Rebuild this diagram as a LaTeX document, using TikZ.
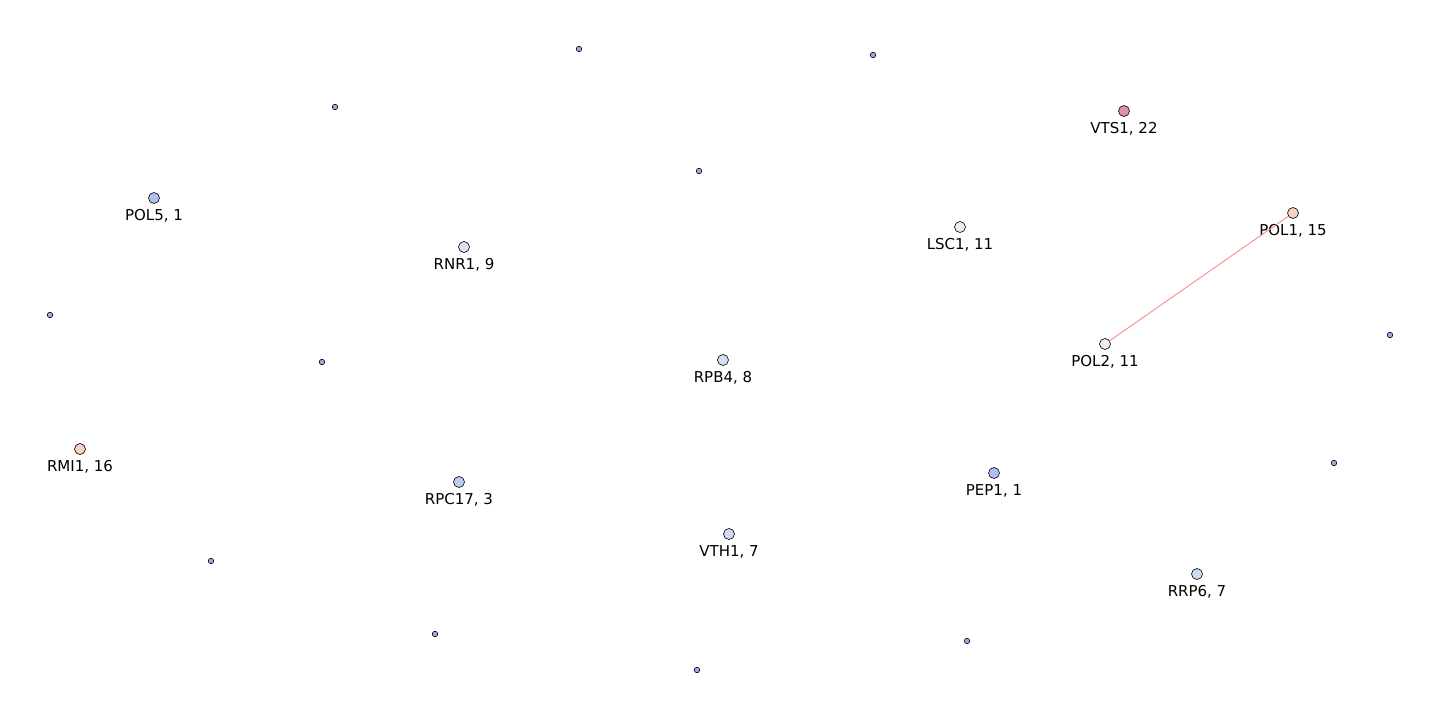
\documentclass[tikz,border=0pt]{standalone}
\usepackage{fontspec}
\setmainfont{DejaVu Sans}
\usepackage{tikz}
\usetikzlibrary{positioning}

\definecolor{cHot}{RGB}{224,146,162}
\definecolor{cWarm}{RGB}{246,210,195}
\definecolor{cMid}{RGB}{238,237,236}
\definecolor{cNine}{RGB}{220,228,246}
\definecolor{cEight}{RGB}{214,222,245}
\definecolor{cSeven}{RGB}{208,218,245}
\definecolor{cThree}{RGB}{190,204,245}
\definecolor{cOne}{RGB}{176,190,240}
\definecolor{cSmall}{RGB}{160,170,228}
\definecolor{cEdge}{RGB}{250,128,128}

\tikzset{
  bignode/.style={circle,draw=black,line width=0.6pt,minimum size=11pt,inner sep=0pt},
  smallnode/.style={circle,draw=black,line width=0.6pt,minimum size=5.5pt,inner sep=0pt,fill=cSmall},
  lbl/.style={font=\fontsize{15}{18}\selectfont,inner sep=1pt,label distance=4.5pt},
  link/.style={draw=cEdge,line width=0.8pt}
}

\begin{document}
\begin{tikzpicture}[x=1pt,y=-1pt]
  \useasboundingbox (0,0) rectangle (1440,720);
  % labelled nodes
  \node[bignode,fill=cHot,label={[lbl]below:VTS1, 22}] (vts1) at (1124,111) {};
  \node[bignode,fill=cOne,label={[lbl]below:POL5, 1}] (pol5) at (154,198) {};
  \node[bignode,fill=cNine,label={[lbl]below:RNR1, 9}] (rnr1) at (464,247) {};
  \node[bignode,fill=cMid,label={[lbl]below:LSC1, 11}] (lsc1) at (960,227) {};
  \node[bignode,fill=cWarm,label={[lbl]below:POL1, 15}] (pol1) at (1293,213) {};
  \node[bignode,fill=cMid,label={[lbl]below:POL2, 11}] (pol2) at (1105,344) {};
  \node[bignode,fill=cEight,label={[lbl]below:RPB4, 8}] (rpb4) at (723,360) {};
  \node[bignode,fill=cWarm,label={[lbl]below:RMI1, 16}] (rmi1) at (80,449) {};
  \node[bignode,fill=cThree,label={[lbl]below:RPC17, 3}] (rpc17) at (459,482) {};
  \node[bignode,fill=cOne,label={[lbl]below:PEP1, 1}] (pep1) at (994,473) {};
  \node[bignode,fill=cSeven,label={[lbl]below:VTH1, 7}] (vth1) at (729,534) {};
  \node[bignode,fill=cSeven,label={[lbl]below:RRP6, 7}] (rrp6) at (1197,574) {};
  % unlabelled nodes
  \foreach \px/\py [count=\i] in {579/49,873/55,335/107,699/171,50/315,322/362,
      1390/335,1334/463,211/561,435/634,967/641,697/670}
    \node[smallnode] (s\i) at (\px,\py) {};
  % edge
  \draw[link] (pol1) -- (pol2);
\end{tikzpicture}
\end{document}
